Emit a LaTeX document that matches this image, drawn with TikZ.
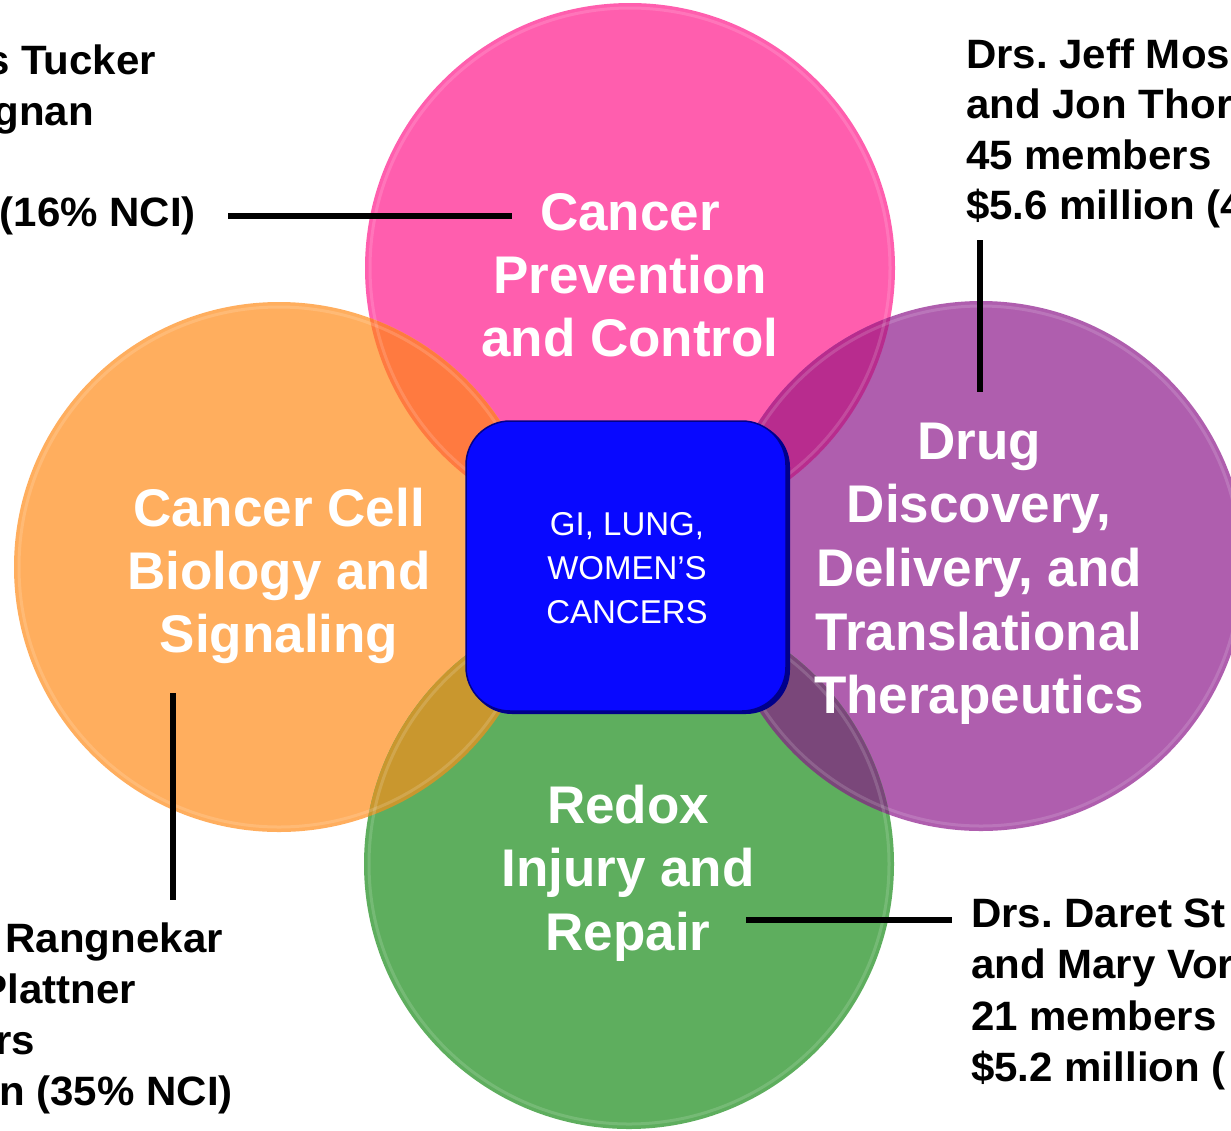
\documentclass[tikz,border=0pt]{standalone}
\usepackage{fontspec}
\setmainfont{Liberation Sans}
\newfontfamily\sidefont[FakeStretch=1.025]{Liberation Sans}
\definecolor{pinkc}{HTML}{FF5EAE}
\definecolor{orangec}{HTML}{FFAE5E}
\definecolor{purplec}{HTML}{AF5EAE}
\definecolor{greenc}{HTML}{5EAE5E}
\definecolor{pinkorange}{HTML}{FF7A40}
\definecolor{pinkpurple}{HTML}{B82C8E}
\definecolor{orangegreen}{HTML}{C9972E}
\definecolor{purplegreen}{HTML}{7A477A}
\definecolor{boxblue}{HTML}{0808FF}
\definecolor{boxdark}{HTML}{00008A}
\frenchspacing
\begin{document}
\begin{tikzpicture}[x=1pt,y=-1pt,
  lbl/.style={text=white,font=\bfseries\fontsize{53}{63}\selectfont,inner sep=0pt,anchor=base},
  side/.style={text=black,font=\sidefont\bfseries\fontsize{41}{50}\selectfont,inner sep=0pt},
  boxt/.style={text=white,font=\fontsize{33}{44}\selectfont,inner sep=0pt,anchor=base},
  conn/.style={line width=6pt,black},
  ring/.style={white,opacity=0.15,line width=3pt},
  rr/.style={radius=265pt}]
\useasboundingbox (0,0) rectangle (1231,1130);
\clip (0,0) rectangle (1231,1130);
\fill[white] (0,0) rectangle (1231,1130);

\coordinate (cp) at (630,268);
\coordinate (co) at (279,567);
\coordinate (cu) at (981,566);
\coordinate (cg) at (629,864);

% circles
\fill[pinkc] (cp) circle[rr];
\fill[orangec] (co) circle[rr];
\fill[purplec] (cu) circle[rr];
\fill[greenc] (cg) circle[rr];

% overlaps
\begin{scope}\clip (cp) circle[rr]; \fill[pinkorange] (co) circle[rr];\end{scope}
\begin{scope}\clip (cp) circle[rr]; \fill[pinkpurple] (cu) circle[rr];\end{scope}
\begin{scope}\clip (co) circle[rr]; \fill[orangegreen] (cg) circle[rr];\end{scope}
\begin{scope}\clip (cu) circle[rr]; \fill[purplegreen] (cg) circle[rr];\end{scope}

% bevel rings
\foreach \c in {cp,co,cu,cg} {\draw[ring] (\c) circle[radius=260pt];}

% centre box
\fill[boxdark,rounded corners=44pt] (468,423) rectangle (790,714);
\node[fill=boxblue,draw=boxdark,line width=1.5pt,rounded corners=44pt,
      minimum width=320pt,minimum height=290pt,inner sep=0pt] (box) at (626,566) {};
\node[boxt] (b1) at (627,535) {GI, LUNG,};
\node[boxt] (b2) at (627,579) {WOMEN’S};
\node[boxt] (b3) at (627,623) {CANCERS};

% circle labels
\node[lbl] (p1) at (630,230) {Cancer};
\node[lbl] (p2) at (630,293) {Prevention};
\node[lbl] (p3) at (630,356) {and Control};

\node[lbl] (o1) at (279,526) {Cancer Cell};
\node[lbl] (o2) at (279,589) {Biology and};
\node[lbl] (o3) at (279,652) {Signaling};

\node[lbl] (u1) at (979,459) {Drug};
\node[lbl] (u2) at (979,522) {Discovery,};
\node[lbl] (u3) at (979,586) {Delivery, and};
\node[lbl] (u4) at (979,650) {Translational};
\node[lbl] (u5) at (979,713) {Therapeutics};

\node[lbl] (g1) at (628,823) {Redox};
\node[lbl] (g2) at (628,886) {Injury and};
\node[lbl] (g3) at (628,950) {Repair};

% side texts
\node[side,anchor=base east] (tl1) at (156,74) {s Tucker};
\node[side,anchor=base east] (tl2) at (94,125) {gnan};
\node[side,anchor=base east] (tl4) at (196,226) {(16\% NCI)};

\node[side,anchor=base west] (tr1) at (966,68) {Drs. Jeff Mos};
\node[side,anchor=base west] (tr2) at (966,118.5) {and Jon Thor};
\node[side,anchor=base west] (tr3) at (966,169) {45 members};
\node[side,anchor=base west] (tr4) at (966,219) {\$5.6 million (4};

\node[side,anchor=base east] (bl1) at (223,952) {Rangnekar};
\node[side,anchor=base east] (bl2) at (136,1003) {Plattner};
\node[side,anchor=base east] (bl3) at (35,1054) {rs};
\node[side,anchor=base east] (bl4) at (233,1105) {n (35\% NCI)};

\node[side,anchor=base west] (br1) at (971,927) {Drs. Daret St};
\node[side,anchor=base west] (br2) at (971,978) {and Mary Vor};
\node[side,anchor=base west] (br3) at (971,1030) {21 members};
\node[side,anchor=base west] (br4) at (971,1081) {\$5.2 million (};

% connectors
\coordinate (l1a) at (228,216); \coordinate (l1b) at (512,216);
\coordinate (l2a) at (980,240); \coordinate (l2b) at (980,392);
\coordinate (l3a) at (173,693); \coordinate (l3b) at (173,900);
\coordinate (l4a) at (746,920); \coordinate (l4b) at (952,920);
\draw[conn] (l1a) -- (l1b);
\draw[conn] (l2a) -- (l2b);
\draw[conn] (l3a) -- (l3b);
\draw[conn] (l4a) -- (l4b);
\end{tikzpicture}
\end{document}
